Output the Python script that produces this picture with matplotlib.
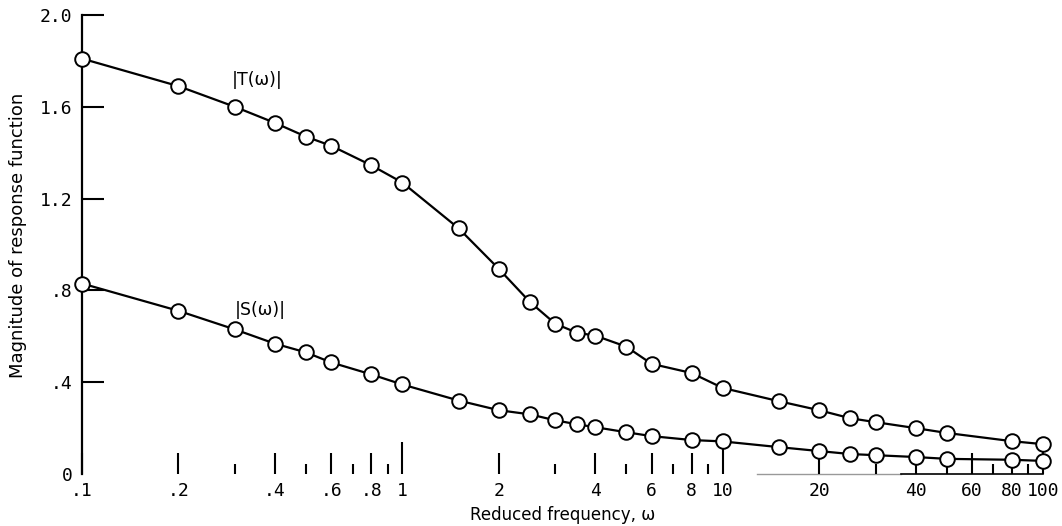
import matplotlib
matplotlib.use("Agg")
import matplotlib.pyplot as plt
from matplotlib.ticker import FixedLocator, NullFormatter

# ---- data ----
freq = [0.1, 0.2, 0.3, 0.4, 0.5, 0.6, 0.8, 1.0, 1.5, 2.0, 2.5, 3.0, 3.5, 4.0,
        5.0, 6.0, 8.0, 10.0, 15.0, 20.0, 25.0, 30.0, 40.0, 50.0, 80.0, 100.0]
T_mag = [1.81, 1.69, 1.60, 1.53, 1.47, 1.43, 1.345, 1.27, 1.07, 0.894, 0.75,
         0.655, 0.616, 0.603, 0.555, 0.48, 0.44, 0.375, 0.317, 0.278, 0.243,
         0.226, 0.20, 0.179, 0.143, 0.13]
S_mag = [0.83, 0.711, 0.63, 0.568, 0.53, 0.486, 0.434, 0.39, 0.32, 0.278,
         0.26, 0.234, 0.217, 0.204, 0.182, 0.165, 0.148, 0.142, 0.117, 0.10,
         0.087, 0.082, 0.074, 0.066, 0.062, 0.057]

xtick_vals = [0.1, 0.2, 0.4, 0.6, 0.8, 1, 2, 4, 6, 8, 10, 20, 40, 60, 80, 100]
xtick_labels = [".1", ".2", ".4", ".6", ".8", "1", "2", "4", "6", "8",
                "10", "20", "40", "60", "80", "100"]
xminor_vals = [0.3, 0.5, 0.7, 0.9, 3, 5, 7, 9, 30, 50, 70, 90]
long_ticks = [1, 10, 100]
ytick_vals = [0, 0.4, 0.8, 1.2, 1.6, 2.0]
ytick_labels = ["0", ".4", ".8", "1.2", "1.6", "2.0"]

W, H = 1062, 526
fig = plt.figure(figsize=(W / 100, H / 100), dpi=100)
x0, x1, ytop, ybot = 82, 1043, 15, 474
ax = fig.add_axes([x0 / W, (H - ybot) / H, (x1 - x0) / W, (ybot - ytop) / H])
ax.set_xscale("log")
ax.set_xlim(0.1, 100)
ax.set_ylim(0, 2.0)

for s in ["top", "right", "bottom"]:
    ax.spines[s].set_visible(False)
ax.spines["left"].set_linewidth(1.6)

# partial baseline as in the reference
ax.plot([12.8, 36], [0, 0], color="#999999", lw=1.0, clip_on=False, zorder=1)
ax.plot([36, 100], [0, 0], color="black", lw=1.2, clip_on=False, zorder=1)

mono = "DejaVu Sans Mono"
# y ticks
ax.set_yticks(ytick_vals)
ax.set_yticklabels(ytick_labels, family=mono, fontsize=13)
ax.tick_params(axis="y", direction="in", length=16, width=1.5, pad=7, left=True, right=False)
ax.yaxis.get_major_ticks()[0].tick1line.set_visible(False)

# x ticks
ax.xaxis.set_major_locator(FixedLocator(xtick_vals))
ax.set_xticklabels(xtick_labels, family=mono, fontsize=13)
ax.xaxis.set_minor_locator(FixedLocator(xminor_vals))
ax.xaxis.set_minor_formatter(NullFormatter())
ax.tick_params(axis="x", which="major", direction="in", length=15, width=1.5, pad=6,
               bottom=True, top=False)
ax.tick_params(axis="x", which="minor", direction="in", length=7, width=1.5,
               bottom=True, top=False)
for v, t in zip(xtick_vals, ax.xaxis.get_major_ticks()):
    if v in long_ticks:
        t.tick1line.set_markersize(23)

# curves
style = dict(color="black", lw=1.6, marker="o", ms=10.5, mfc="white",
             mec="black", mew=1.4, clip_on=False, zorder=3)
ax.plot(freq, T_mag, **style)
ax.plot(freq, S_mag, **style)

ax.text(0.353, 1.717, "|T(ω)|", fontsize=12.5, ha="center", va="center")
ax.text(0.36, 0.715, "|S(ω)|", fontsize=12.5, ha="center", va="center")

ax.set_xlabel("Reduced frequency, ω", fontsize=12, labelpad=4)
ax.set_ylabel("Magnitude of response function", fontsize=13, labelpad=6)
ax.yaxis.set_label_coords(-0.057, 0.52)

fig.savefig("out.png", dpi=100)
